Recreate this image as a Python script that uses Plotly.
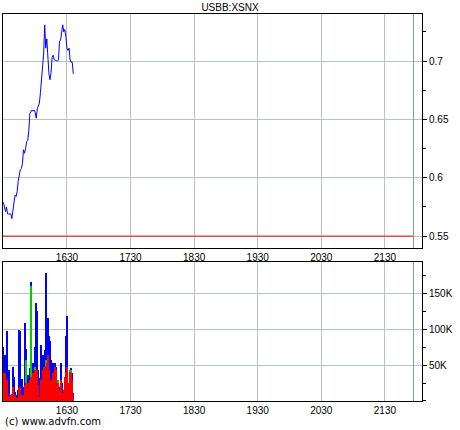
import pandas as pd
import plotly.graph_objs as go

# price, one point per minute from 15:30
price = [0.579, 0.574, 0.571, 0.575, 0.569, 0.569, 0.569, 0.569, 0.565, 0.572,
         0.581, 0.585, 0.584, 0.588, 0.597, 0.604, 0.607, 0.608, 0.612, 0.624,
         0.621, 0.625, 0.631, 0.632, 0.640, 0.655, 0.657, 0.658, 0.657, 0.658,
         0.656, 0.651, 0.659, 0.661, 0.664, 0.673, 0.685, 0.700, 0.706, 0.731,
         0.711, 0.719, 0.697, 0.689, 0.684, 0.690, 0.703, 0.705, 0.701, 0.701,
         0.700, 0.700, 0.701, 0.717, 0.718, 0.727, 0.731, 0.725, 0.727, 0.721,
         0.711, 0.709, 0.711, 0.701, 0.699, 0.699, 0.689]

# volume in thousands: total (blue), green part, red part
vol_total = [75, 64, 64, 97, 6, 43, 8, 5, 10, 48, 34, 12, 5, 8, 15, 99, 98, 15, 30, 20,
             109, 72, 25, 36, 29, 46, 166, 43, 53, 34, 76, 137, 125, 43, 4, 32, 78, 64, 48, 71,
             179, 92, 116, 90, 83, 57, 43, 53, 25, 53, 48, 13, 29, 20, 53, 25, 11, 15, 34, 90,
             118, 25, 20, 43, 46, 39, 11]
vol_green = [0, 0, 0, 0, 0, 0, 0, 0, 0, 0, 0, 0, 0, 0, 0, 0, 0, 0, 0, 0,
             0, 57, 25, 0, 0, 0, 160, 0, 0, 0, 48, 43, 0, 0, 0, 0, 0, 0, 0, 0,
             57, 29, 0, 34, 0, 0, 0, 0, 25, 43, 0, 0, 29, 0, 0, 0, 0, 0, 0, 0,
             0, 0, 0, 43, 43, 0, 0]
vol_red = [39, 39, 39, 29, 6, 1, 8, 4, 8, 20, 8, 8, 4, 4, 3, 18, 20, 3, 8, 8,
           22, 25, 20, 25, 20, 29, 34, 25, 39, 29, 43, 41, 43, 22, 1, 6, 29, 43, 48, 34,
           48, 53, 64, 43, 29, 29, 20, 39, 20, 48, 43, 8, 25, 15, 29, 11, 11, 15, 34, 41,
           48, 25, 15, 41, 39, 29, 6]

prev_close = 0.55
times = pd.date_range("2024-01-02 15:30", periods=len(price), freq="min")
x_start = "2024-01-02 15:29:40"
x_end = "2024-01-02 22:05"
close_mark = "2024-01-02 21:57"

grid = "#b8c4c4"
fnt = dict(family="Liberation Sans", size=10, color="black")

fig = go.Figure()
fig.add_trace(go.Scatter(x=[x_start, close_mark], y=[prev_close, prev_close], mode="lines",
                         line=dict(color="#ff0000", width=1), xaxis="x", yaxis="y"))
fig.add_trace(go.Scatter(x=times, y=price, mode="lines",
                         line=dict(color="#0000ff", width=1), xaxis="x", yaxis="y"))
fig.add_trace(go.Bar(x=times, y=[v * 1000 for v in vol_total], width=60000,
                     marker=dict(color="#0000ff", line=dict(width=0)), xaxis="x2", yaxis="y2"))
fig.add_trace(go.Bar(x=times, y=[v * 1000 for v in vol_green], width=60000,
                     marker=dict(color="#00cc00", line=dict(width=0)), xaxis="x2", yaxis="y2"))
fig.add_trace(go.Bar(x=times, y=[v * 1000 for v in vol_red], width=60000,
                     marker=dict(color="#ff0000", line=dict(width=0)), xaxis="x2", yaxis="y2"))

xcommon = dict(type="date", range=[x_start, x_end], tick0="2024-01-02 16:30", dtick=3600000,
               tickformat="%H%M", showgrid=True, gridcolor=grid, gridwidth=1,
               showline=True, linecolor="black", linewidth=1, mirror=True,
               ticks="", tickfont=fnt, zeroline=False, automargin=False)
ycommon = dict(side="right", showgrid=True, gridcolor=grid, gridwidth=1,
               showline=True, linecolor="black", linewidth=1, mirror=True,
               ticks="outside", ticklen=4, tickcolor="black", tickfont=fnt, zeroline=False,
               automargin=False)

fig.update_layout(
    width=460, height=430,
    margin=dict(l=3, r=38, t=14, b=29),
    paper_bgcolor="white", plot_bgcolor="white",
    showlegend=False, barmode="overlay", bargap=0,
    font=fnt,
    title=dict(text="USBB:XSNX", x=0.5, xref="container", xanchor="center",
               y=1 - 7 / 430, yref="container", yanchor="middle", font=fnt),
    xaxis=dict(xcommon, domain=[0, 1], anchor="y"),
    yaxis=dict(ycommon, domain=[0.395, 1], range=[0.5397, 0.7403], anchor="x",
               tickvals=[0.55, 0.6, 0.65, 0.7], ticktext=["0.55", "0.6", "0.65", "0.7"],
               minor=dict(dtick=0.025, tick0=0.525, ticks="outside", ticklen=3,
                          tickcolor="black", showgrid=False)),
    xaxis2=dict(xcommon, domain=[0, 1], anchor="y2"),
    yaxis2=dict(ycommon, domain=[0, 0.359], range=[0, 194000], anchor="x2",
                tickvals=[50000, 100000, 150000], ticktext=["50K", "100K", "150K"],
                minor=dict(dtick=25000, tick0=0, ticks="outside", ticklen=3,
                           tickcolor="black", showgrid=False)),
    shapes=[dict(type="line", xref="x", yref="y domain", x0=close_mark, x1=close_mark,
                 y0=0, y1=1, line=dict(color="#7f9a9a", width=1)),
            dict(type="line", xref="x2", yref="y2 domain", x0=close_mark, x1=close_mark,
                 y0=0, y1=1, line=dict(color="#7f9a9a", width=1))],
    annotations=[dict(text="(c) www.advfn.com", xref="paper", yref="paper", x=0, y=-0.054,
                      xanchor="left", yanchor="middle", showarrow=False,
                      font=dict(family="DejaVu Sans", size=10, color="black"))],
)

# page margin off so the chart sits at the window corner
fig.write_html("out.html", config={"displayModeBar": False},
               post_script="document.body.style.margin='0';")
